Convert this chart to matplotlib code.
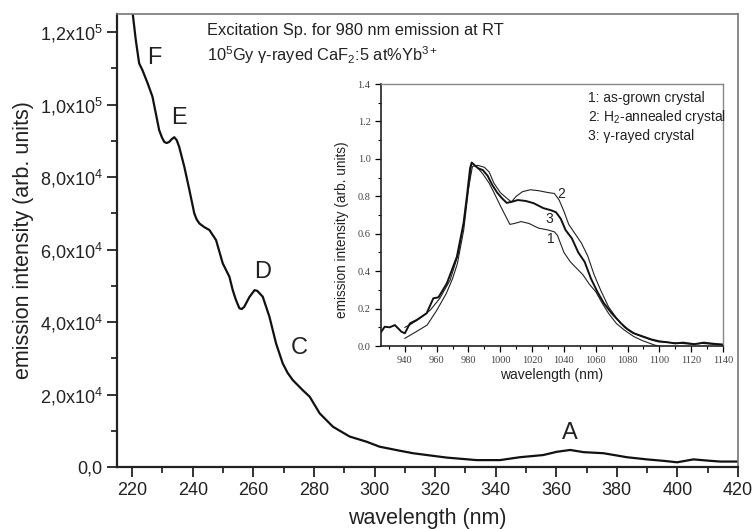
import numpy as np
import matplotlib
matplotlib.use("Agg")
import matplotlib.pyplot as plt
from matplotlib.ticker import MultipleLocator, FuncFormatter

plt.rcParams['font.family'] = ['Liberation Sans', 'DejaVu Sans']

# main excitation spectrum (nm, arb. units)
exc_wl = [219.5, 221.2, 222.3, 223.4, 225.1, 226.7, 227.8, 228.9, 229.8, 230.6, 231.4,
          232.2, 233.1, 233.9, 234.7, 235.5, 237.2, 238.9, 240.5, 241.3, 242.2, 243.8,
          245.5, 247.7, 249.9, 252.1, 253.2, 254.3, 255.4, 256.2, 257.0, 258.7, 260.4,
          261.3, 263.1, 265.3, 267.5, 269.7, 271.3, 273.0, 276.3, 278.6, 281.9, 286.3,
          291.8, 297.3, 301.7, 308.3, 312.7, 323.8, 333.7, 341.4, 348.0, 355.7, 360.2,
          364.6, 369.0, 375.6, 383.3, 389.9, 395.4, 399.9, 405.3, 410.9, 414.2, 420.0]
exc_int = [130000, 117800, 111400, 109500, 105900, 102200, 97600, 93000, 91000, 89700,
           89400, 89700, 90500, 91000, 90200, 88400, 82900, 76400, 70000, 68300, 67200,
           66200, 65400, 62600, 56200, 52500, 48800, 46000, 43800, 43600, 44200, 46900,
           48800, 48600, 47000, 41500, 34100, 28600, 26000, 24000, 21200, 19400, 14800,
           11100, 8400, 7000, 5600, 4500, 3800, 2600, 1900, 1900, 2700, 3300, 4200,
           4700, 4100, 3800, 2700, 2100, 1700, 1300, 2100, 1700, 1500, 1500]

peak_names = ['F', 'E', 'D', 'C', 'A']
peak_x = [227.3, 235.5, 263.0, 275.2, 364.6]
peak_y = [112800, 96300, 53800, 32800, 9400]

# inset emission spectra
em1_wl = [940, 947, 954, 960, 966, 970, 973, 977, 979.5, 982, 986, 989, 993, 996,
          1000, 1003, 1006, 1009, 1013, 1018, 1024, 1030, 1034, 1036, 1040, 1044,
          1048, 1052, 1056, 1060, 1064, 1068, 1073, 1078, 1084, 1089, 1097, 1100]
em1_int = [0.041, 0.076, 0.112, 0.19, 0.28, 0.36, 0.44, 0.62, 0.80, 0.98, 0.95, 0.92,
           0.87, 0.82, 0.75, 0.70, 0.65, 0.655, 0.665, 0.655, 0.63, 0.62, 0.61, 0.59,
           0.50, 0.45, 0.415, 0.38, 0.33, 0.29, 0.23, 0.175, 0.12, 0.085, 0.05,
           0.03, 0.005, 0.0]

em2_wl = [940, 943, 949.5, 956, 962, 968.5, 973.7, 977, 979.5, 982.5, 986, 990, 993,
          996, 1000, 1004, 1007, 1010, 1014, 1019, 1024, 1030, 1034, 1037, 1040,
          1043, 1047, 1051, 1055, 1059, 1063, 1068, 1073, 1078, 1083, 1089, 1094,
          1099, 1105, 1114, 1120, 1127, 1133, 1140]
em2_int = [0.10, 0.112, 0.148, 0.192, 0.255, 0.353, 0.495, 0.66, 0.82, 0.96, 0.965,
           0.955, 0.93, 0.87, 0.82, 0.79, 0.77, 0.80, 0.825, 0.835, 0.83, 0.82,
           0.815, 0.78, 0.72, 0.65, 0.60, 0.55, 0.48, 0.38, 0.30, 0.21, 0.15, 0.10,
           0.07, 0.05, 0.035, 0.023, 0.02, 0.014, 0.01, 0.014, 0.01, 0.005]

em3_wl = [925.2, 927.3, 930.5, 933.7, 937.9, 940, 943.2, 947.4, 953.7, 957.9, 961.1,
          966.4, 972.7, 976.9, 979, 981, 982, 984, 986, 989, 992, 995, 998, 1001,
          1004, 1007, 1011, 1016, 1021, 1027, 1032, 1035, 1038, 1041, 1045, 1049,
          1053, 1057, 1061, 1065, 1070, 1076, 1080, 1084, 1090, 1095, 1100, 1105,
          1110, 1115, 1122, 1128, 1134, 1140]
em3_int = [0.076, 0.103, 0.10, 0.112, 0.076, 0.068, 0.121, 0.139, 0.175, 0.255, 0.26,
           0.335, 0.477, 0.656, 0.80, 0.95, 0.98, 0.965, 0.95, 0.94, 0.91, 0.86,
           0.82, 0.79, 0.765, 0.77, 0.78, 0.775, 0.763, 0.737, 0.725, 0.715, 0.68,
           0.62, 0.575, 0.50, 0.45, 0.36, 0.29, 0.23, 0.175, 0.12, 0.09, 0.068,
           0.05, 0.035, 0.025, 0.02, 0.014, 0.018, 0.01, 0.018, 0.012, 0.008]

curve_tags = ['2', '3', '1']
tag_x = [1038, 1031, 1032]
tag_y = [0.81, 0.68, 0.57]


def sci_comma(v, pos):
    if v == 0:
        return '0,0'
    e = int(np.floor(np.log10(abs(v))))
    m = v / 10**e
    return ('%.1f' % m).replace('.', ',') + r'x10$\mathregular{^{%d}}$' % e


fig = plt.figure(figsize=(7.54, 5.29), dpi=100)
ax = fig.add_axes([0.1552, 0.1172, 0.8236, 0.8563])

ax.plot(exc_wl, exc_int, color='#111111', lw=1.6)
ax.set_xlim(215, 420)
ax.set_ylim(0, 125000)
ax.xaxis.set_major_locator(MultipleLocator(20))
ax.xaxis.set_minor_locator(MultipleLocator(10))
ax.yaxis.set_major_locator(MultipleLocator(20000))
ax.yaxis.set_minor_locator(MultipleLocator(10000))
ax.yaxis.set_major_formatter(FuncFormatter(sci_comma))
ax.tick_params(which='major', direction='out', length=7, width=1.3,
               labelsize=13, colors='#222222')
ax.tick_params(which='minor', direction='out', length=4, width=1.1)
for s in ['left', 'bottom']:
    ax.spines[s].set_linewidth(1.6)
    ax.spines[s].set_color('#222222')
for s in ['top', 'right']:
    ax.spines[s].set_linewidth(1.2)
    ax.spines[s].set_color('#777777')
ax.set_xlabel('wavelength (nm)', fontsize=15.5, color='#222222', labelpad=7)
ax.set_ylabel('emission intensity (arb. units)', fontsize=15.5, color='#222222',
              labelpad=4)

for name, px, py in zip(peak_names, peak_x, peak_y):
    ax.text(px, py, name, fontsize=17, ha='center', va='center', color='#222222')

fig.text(207 / 754, 1 - 30 / 529, 'Excitation Sp. for 980 nm emission at RT',
         fontsize=11.8, va='center', color='#222222')
fig.text(207 / 754, 1 - 55 / 529,
         r'10$\mathregular{^5}$Gy γ-rayed CaF$\mathregular{_2}$:5 at%Yb$\mathregular{^{3+}}$',
         fontsize=11.8, va='center', color='#222222')

# inset
ins = fig.add_axes([0.5053, 0.3459, 0.4536, 0.4953])
ins.plot(em1_wl, em1_int, color='#222222', lw=0.8)
ins.plot(em2_wl, em2_int, color='#222222', lw=0.8)
ins.plot(em3_wl, em3_int, color='#111111', lw=1.4)
ins.set_xlim(925, 1140)
ins.set_ylim(0, 1.4)
ins.xaxis.set_major_locator(MultipleLocator(20))
ins.xaxis.set_minor_locator(MultipleLocator(10))
ins.yaxis.set_major_locator(MultipleLocator(0.2))
ins.yaxis.set_minor_locator(MultipleLocator(0.1))
ins.yaxis.set_major_formatter(FuncFormatter(lambda v, p: '%.1f' % v))
ins.xaxis.set_major_formatter(FuncFormatter(lambda v, p: '' if v < 940 else '%d' % v))
ins.tick_params(which='major', direction='out', length=4, width=0.9,
                labelsize=7.5)
ins.tick_params(which='minor', direction='out', length=2.5, width=0.8)
for lab in ins.get_xticklabels() + ins.get_yticklabels():
    lab.set_family('Liberation Serif')
    lab.set_color('#444444')
for s in ['left', 'bottom']:
    ins.spines[s].set_linewidth(1.2)
    ins.spines[s].set_color('#222222')
for s in ['top', 'right']:
    ins.spines[s].set_linewidth(1.0)
    ins.spines[s].set_color('#888888')
ins.set_xlabel('wavelength (nm)', fontsize=10, color='#222222', labelpad=2)
ins.set_ylabel('emission intensity (arb. units)', fontsize=9.8, color='#222222')
ins.yaxis.set_label_coords(-0.095, 0.443)

legend_lines = ['1: as-grown crystal',
                r'2: H$\mathregular{_2}$-annealed crystal',
                '3: γ-rayed crystal']
for i, t in enumerate(legend_lines):
    ins.text(0.605, 0.945 - i * 0.071, t, transform=ins.transAxes, fontsize=10,
             va='center', color='#222222')

for t, px, py in zip(curve_tags, tag_x, tag_y):
    ins.text(px, py, t, fontsize=10, ha='center', va='center', color='#222222')

fig.savefig('out.png', dpi=100)
